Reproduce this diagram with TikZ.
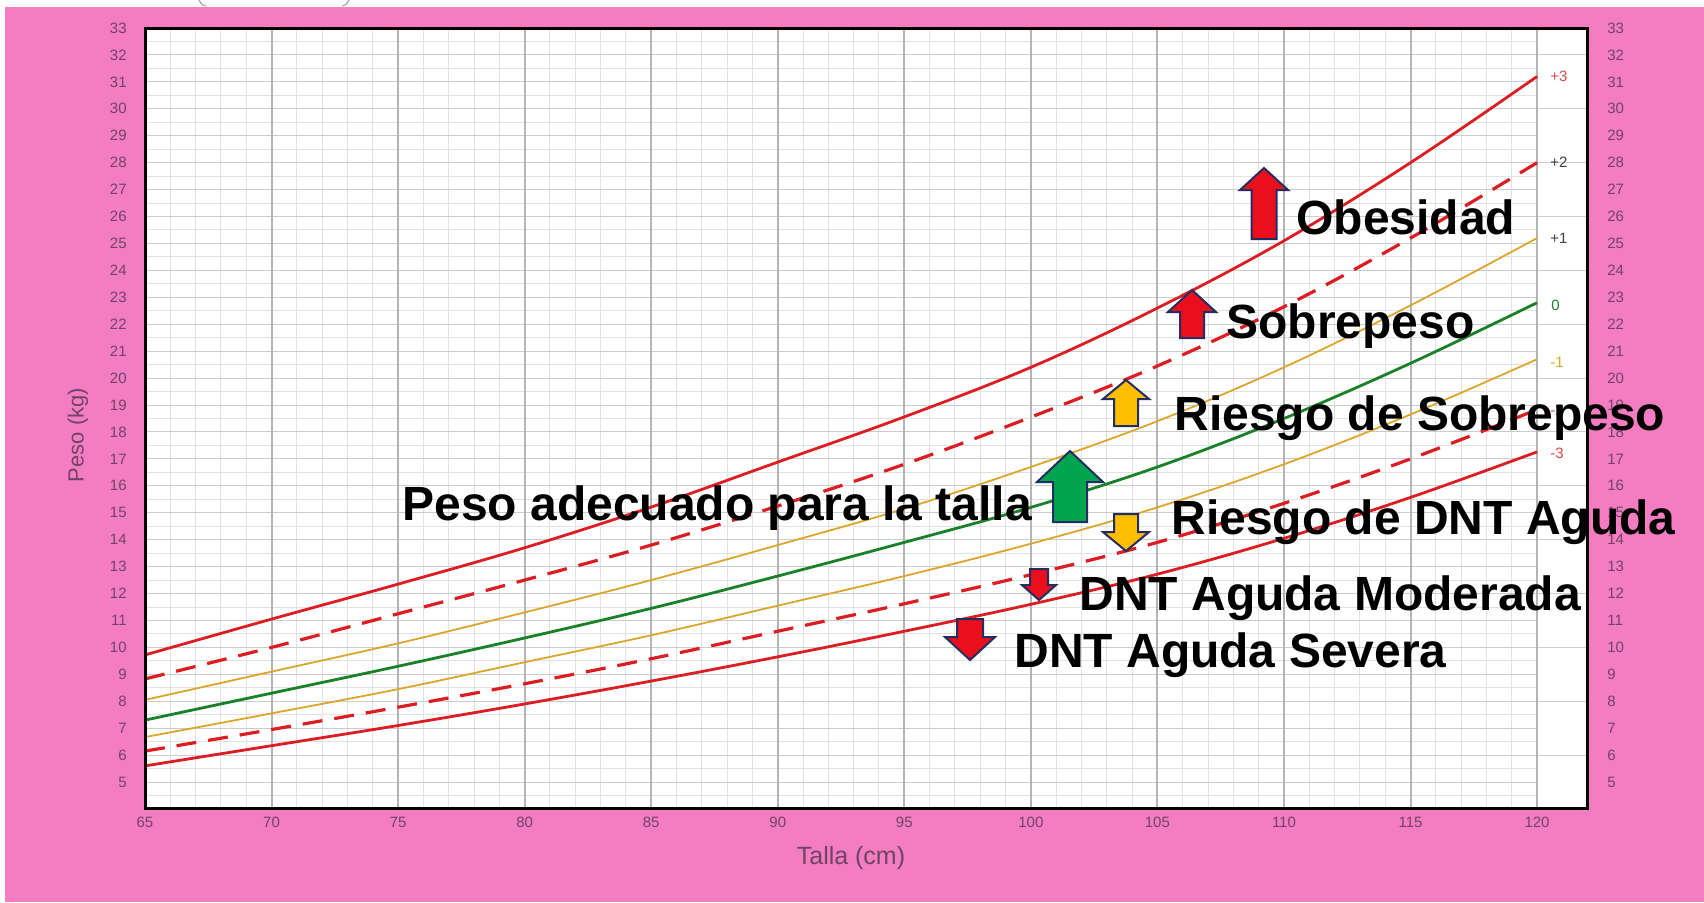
\documentclass[tikz,border=0pt]{standalone}
\usepackage{fontspec}
\setmainfont{Liberation Sans}
\definecolor{pinkbg}{RGB}{244,124,192}
\definecolor{tickc}{RGB}{112,68,104}
\definecolor{gridminor}{RGB}{226,226,226}
\definecolor{gridmid}{RGB}{204,204,204}
\definecolor{gridmajor}{RGB}{180,180,180}
\definecolor{cred}{RGB}{220,30,35}
\definecolor{clabred}{RGB}{215,75,75}
\definecolor{cgold}{RGB}{222,165,45}
\definecolor{cgreen}{RGB}{25,130,40}
\definecolor{arred}{RGB}{235,15,30}
\definecolor{argold}{RGB}{255,190,0}
\definecolor{argreen}{RGB}{0,165,80}
\definecolor{arnavy}{RGB}{35,45,95}
\newcommand{\blockarr}[7]{%
  \filldraw[arrowbox, fill=#7] ({#1-#5},#3) -- (#1,#2) -- ({#1+#5},#3) -- ({#1+#6},#3) -- ({#1+#6},#4) -- ({#1-#6},#4) -- ({#1-#6},#3) -- cycle;}
\begin{document}
\begin{tikzpicture}[x=0.5pt,y=-0.5pt,
  ticklbl/.style={font=\fontsize{7.5}{9}\selectfont, text=tickc, inner sep=0pt},
  axtitle/.style={font=\fontsize{11}{13}\selectfont, text=tickc, inner sep=0pt},
  bigtxt/.style={font=\bfseries\fontsize{24}{28}\selectfont, inner sep=0pt, anchor=base west},
  arrowbox/.style={draw=arnavy, line width=1pt, line join=miter},
  redsolid/.style={cred, line width=1.4pt},
  reddash/.style={cred, line width=1.6pt, dash pattern=on 10pt off 6pt},
  goldline/.style={cgold, line width=0.9pt},
  greenline/.style={cgreen, line width=1.4pt}]
\useasboundingbox (0,0) rectangle (1704,902);
\fill[white] (0,0) rectangle (1704,902);
\fill[pinkbg] (5,7) rectangle (1704,902);
\draw[gray!70, line width=0.6pt] (199,0) .. controls (200,3) and (202,5) .. (206,6);
\draw[gray!70, line width=0.6pt] (349,0) .. controls (348,3) and (346,5) .. (342,6);
\begin{scope}[shift={(-750.075pt,-458.345pt)}, x=12.655pt, y=13.465pt]
  \fill[white] (65,4) rectangle (122,33);
  \foreach \h in {66,...,119} \draw[gridminor, line width=0.5pt] (\h,4) -- (\h,33);
  \foreach \k in {4.5,5.5,...,32.5} \draw[gridminor, line width=0.5pt] (65,\k) -- (120,\k);
  \foreach \k in {5,...,32} \draw[gridmid, line width=0.5pt] (65,\k) -- (120,\k);
  \foreach \k in {6,8,...,32} \draw[gridmid, line width=0.5pt] (120,\k) -- (122,\k);
  \foreach \h in {70,75,...,120} \draw[gridmajor, line width=1pt] (\h,4) -- (\h,33);
  % curves
  \draw[redsolid] plot[smooth, tension=0.6] coordinates {(65,9.72) (70,11.05) (75,12.35) (80,13.7) (85,15.21) (90,16.88) (95,18.56) (100,20.4) (105,22.6) (110,25.1) (115,28.0) (120,31.2)};
  \draw[reddash] plot[smooth, tension=0.6] coordinates {(65,8.83) (70,10.0) (75,11.25) (80,12.5) (85,13.8) (90,15.25) (95,16.8) (100,18.55) (105,20.45) (110,22.65) (115,25.2) (120,28.0)};
  \draw[goldline] plot[smooth, tension=0.6] coordinates {(65,8.05) (70,9.1) (75,10.15) (80,11.3) (85,12.5) (90,13.8) (95,15.15) (100,16.7) (105,18.4) (110,20.4) (115,22.7) (120,25.2)};
  \draw[greenline] plot[smooth, tension=0.6] coordinates {(65,7.3) (70,8.3) (75,9.3) (80,10.35) (85,11.45) (90,12.65) (95,13.9) (100,15.2) (105,16.7) (110,18.5) (115,20.55) (120,22.8)};
  \draw[goldline] plot[smooth, tension=0.6] coordinates {(65,6.67) (70,7.55) (75,8.45) (80,9.45) (85,10.45) (90,11.55) (95,12.65) (100,13.85) (105,15.2) (110,16.8) (115,18.65) (120,20.7)};
  \draw[reddash] plot[smooth, tension=0.6] coordinates {(65,6.15) (70,6.95) (75,7.78) (80,8.65) (85,9.58) (90,10.6) (95,11.62) (100,12.7) (105,13.9) (110,15.35) (115,17.0) (120,18.83)};
  \draw[redsolid] plot[smooth, tension=0.6] coordinates {(65,5.6) (70,6.35) (75,7.1) (80,7.9) (85,8.75) (90,9.65) (95,10.6) (100,11.6) (105,12.72) (110,14.05) (115,15.57) (120,17.26)};
  \draw[black, line width=1.5pt] (65,4) rectangle (122,33);
  % tick labels
  \foreach \h in {65,70,...,120} \node[ticklbl, yshift=-6.5pt] (xl\h) at (\h,4) {\h};
  \foreach \k in {5,...,33} {
    \node[ticklbl, anchor=east, xshift=-9pt] (yl\k) at (65,\k) {\k};
    \node[ticklbl, anchor=west, xshift=9.6pt] (yr\k) at (122,\k) {\k};
  }
  % curve labels
  \node[ticklbl, anchor=west, xshift=6.5pt, text=clabred] (lp3) at (120,31.2) {+3};
  \node[ticklbl, anchor=west, xshift=6.5pt, text=black!75] (lp2) at (120,28.0) {+2};
  \node[ticklbl, anchor=west, xshift=6.5pt, text=black!75] (lp1) at (120,25.2) {+1};
  \node[ticklbl, anchor=west, xshift=7pt, text=cgreen] (l0) at (120,22.7) {0};
  \node[ticklbl, anchor=west, xshift=6.5pt, text=cgold] (lm1) at (120,20.6) {-1};
  \node[ticklbl, anchor=west, xshift=6.5pt, text=clabred] (lm2) at (120,18.8) {-2};
  \node[ticklbl, anchor=west, xshift=6.5pt, text=clabred] (lm3) at (120,17.2) {-3};
\end{scope}
% axis titles
\node[axtitle, rotate=90] (ylab) at (78,435) {Peso (kg)};
\node[axtitle, font=\fontsize{12.5}{14}\selectfont] (xlab) at (851,858) {Talla (cm)};
% block arrows
\blockarr{1264}{168}{190}{239}{24}{12.5}{arred}
\blockarr{1192}{290}{312}{338}{24}{12}{arred}
\blockarr{1126}{380}{399}{426}{23}{12}{argold}
\blockarr{1070}{451}{482}{522}{33}{17}{argreen}
\blockarr{1126}{551}{532}{514}{23}{12}{argold}
\blockarr{1039}{600}{585}{569}{17}{9}{arred}
\blockarr{970}{660}{637}{619}{25}{13}{arred}
% category texts
\node[bigtxt] (tob) at (1296,234) {Obesidad};
\node[bigtxt] (tsp) at (1226,338) {Sobrepeso};
\node[bigtxt] (trs) at (1174,430) {Riesgo de Sobrepeso};
\node[bigtxt] (tpa) at (402,520) {Peso adecuado para la talla};
\node[bigtxt] (trd) at (1171,534) {Riesgo de DNT Aguda};
\node[bigtxt] (tdm) at (1079,610) {DNT Aguda Moderada};
\node[bigtxt] (tds) at (1014,667) {DNT Aguda Severa};
\end{tikzpicture}
\end{document}
